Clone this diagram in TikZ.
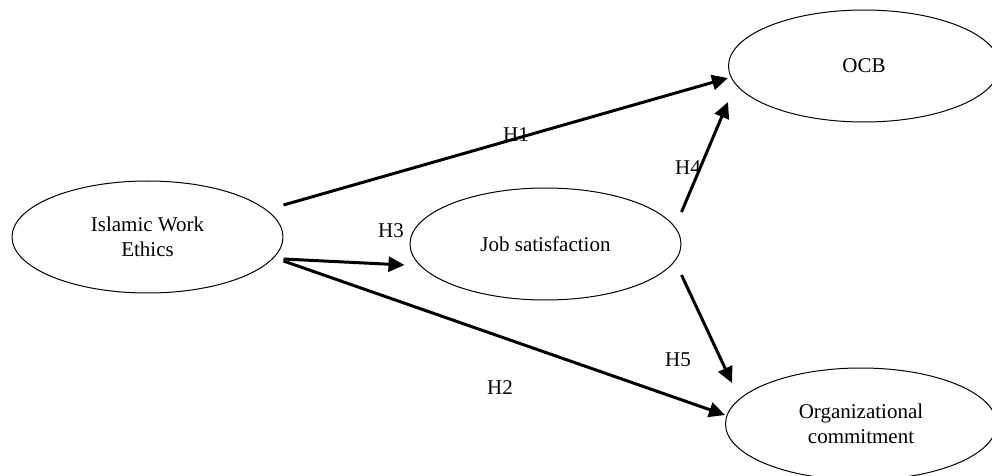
\documentclass[tikz,border=0pt]{standalone}
\usepackage{fontspec}
\setmainfont{Liberation Serif}
\usepackage{tikz}
\usetikzlibrary{arrows.meta,positioning,shapes.geometric}

\begin{document}
\begin{tikzpicture}[x=.5pt,y=-.5pt,>={Triangle[length=8pt,width=7.5pt]},line join=bevel,
  construct/.style={draw,ellipse,line width=.5pt,minimum width=135.5pt,minimum height=56pt,inner sep=0pt,align=center,font=\fontsize{10.5}{12.5}\selectfont},
  hyp/.style={->,line width=1.5pt},
  hlabel/.style={font=\fontsize{10.5}{12.5}\selectfont,inner sep=0pt}]
\useasboundingbox (0,0) rectangle (992,476);
\node[construct] at (147.5,237) (iwe) {Islamic Work\\Ethics};
\node[construct] at (545.5,244) (js) {Job satisfaction};
\node[construct] at (864,66) (ocb) {OCB};
\node[construct] at (861,424) (oc) {Organizational\\commitment};

\draw [hyp] ([yshift=16pt]iwe.east) -- ([yshift=-6pt]ocb.west);
\draw [hyp] ([yshift=-11pt]iwe.east) -- ([xshift=-2.5pt,yshift=-10.5pt]js.west);
\draw [hyp] ([yshift=-12pt]iwe.east) -- ([yshift=4.5pt]oc.west);
\draw [hyp] ([yshift=16pt]js.east) -- ([yshift=-18pt]ocb.west);
\draw [hyp] ([yshift=-15.5pt]js.east) -- ([xshift=3.5pt,yshift=20.5pt]oc.west);

\node[hlabel] at (516,135) (h1) {H1};
\node[hlabel] at (500,388) (h2) {H2};
\node[hlabel] at (391,231) (h3) {H3};
\node[hlabel] at (688,168) (h4) {H4};
\node[hlabel] at (678,360) (h5) {H5};
\end{tikzpicture}
\end{document}
